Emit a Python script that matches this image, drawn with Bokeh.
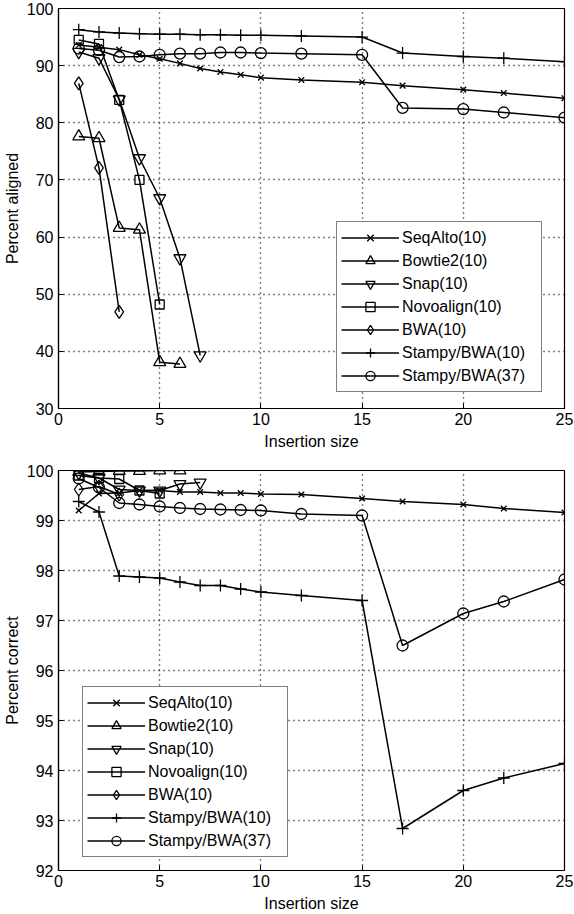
from bokeh.plotting import figure
from bokeh.layouts import column
from bokeh.models import FixedTicker, Legend
from bokeh.embed import file_html
from bokeh.resources import INLINE

FONT = "Liberation Sans"

names = ["SeqAlto(10)", "Bowtie2(10)", "Snap(10)", "Novoalign(10)", "BWA(10)",
         "Stampy/BWA(10)", "Stampy/BWA(37)"]
markers = ["x", "triangle", "inverted_triangle", "square", "diamond", "cross", "circle"]
msizes = [8, 12, 12, 9, 13, 12, 11]

x_full = [1, 2, 3, 4, 5, 6, 7, 8, 9, 10, 12, 15, 17, 20, 22, 25]
x_bowtie = [1, 2, 3, 4, 5, 6]
x_snap = [1, 2, 3, 4, 5, 6, 7]
x_novo = [1, 2, 3, 4, 5]
x_bwa_al = [1, 2, 3]
x_bwa_co = [1, 2, 3]

# Percent aligned
seqalto_al = [93.6, 93.2, 92.8, 91.9, 91.2, 90.4, 89.5, 88.9, 88.4, 87.9, 87.5, 87.1, 86.5, 85.8, 85.2, 84.3]
bowtie2_al = [77.6, 77.3, 61.6, 61.3, 38.1, 37.8]
snap_al = [92.4, 91.3, 84.1, 73.8, 66.8, 56.3, 39.3]
novo_al = [94.5, 93.8, 84.0, 70.0, 48.2]
bwa_al = [86.9, 72.1, 46.9]
stampy10_al = [96.3, 95.9, 95.7, 95.6, 95.5, 95.5, 95.4, 95.4, 95.3, 95.3, 95.2, 95.0, 92.2, 91.6, 91.3, 90.7]
stampy37_al = [93.0, 92.7, 91.5, 91.6, 91.9, 92.1, 92.1, 92.3, 92.3, 92.2, 92.1, 91.9, 82.6, 82.4, 81.8, 80.9]

# Percent correct
seqalto_co = [99.2, 99.54, 99.55, 99.6, 99.6, 99.57, 99.57, 99.55, 99.55, 99.53, 99.52, 99.44, 99.38, 99.32, 99.24, 99.16]
bowtie2_co = [99.97, 99.98, 99.99, 99.99, 100.0, 100.0]
snap_co = [99.95, 99.85, 99.62, 99.6, 99.6, 99.73, 99.76]
novo_co = [99.9, 99.85, 99.83, 99.6, 99.54]
bwa_co = [99.62, 99.68, 99.52]
stampy10_co = [99.38, 99.17, 97.89, 97.87, 97.85, 97.77, 97.7, 97.7, 97.63, 97.57, 97.5, 97.4, 92.84, 93.6, 93.85, 94.14]
stampy37_co = [99.84, 99.66, 99.35, 99.32, 99.28, 99.25, 99.23, 99.22, 99.21, 99.2, 99.13, 99.1, 96.5, 97.14, 97.38, 97.82]

x_ticks = [0, 5, 10, 15, 20, 25]
y_ticks_al = [30, 40, 50, 60, 70, 80, 90, 100]
y_ticks_co = [92, 93, 94, 95, 96, 97, 98, 99, 100]


def make_fig(height, ylim, yticks, ylabel, series, min_top, min_bottom, legend_loc):
    p = figure(width=574, height=height, x_range=(0, 25), y_range=ylim,
               output_backend="svg", toolbar_location=None,
               min_border_left=58, min_border_right=10,
               min_border_top=min_top, min_border_bottom=min_bottom)
    p.background_fill_color = "white"
    p.border_fill_color = "white"
    p.outline_line_color = "black"
    p.outline_line_width = 1.2
    for ax in (p.xaxis[0], p.yaxis[0]):
        ax.major_tick_in = 5
        ax.major_tick_out = 0
        ax.minor_tick_line_color = None
        ax.axis_line_color = "black"
        ax.axis_line_width = 1.2
        ax.major_tick_line_color = "black"
        ax.major_label_text_font = FONT
        ax.major_label_text_font_size = "16px"
        ax.major_label_text_color = "black"
        ax.axis_label_text_font = FONT
        ax.axis_label_text_font_size = "16px"
        ax.axis_label_text_font_style = "normal"
        ax.axis_label_text_color = "black"
    p.xaxis[0].ticker = FixedTicker(ticks=x_ticks)
    p.yaxis[0].ticker = FixedTicker(ticks=yticks)
    p.xaxis[0].axis_label = "Insertion size"
    p.yaxis[0].axis_label = ylabel
    p.xaxis[0].major_label_standoff = 4
    p.xaxis[0].axis_label_standoff = 5
    p.yaxis[0].major_label_standoff = 5
    p.yaxis[0].axis_label_standoff = 3
    for g in (p.xgrid[0], p.ygrid[0]):
        g.grid_line_color = "black"
        g.grid_line_dash = "1 4"
        g.grid_line_width = 1.4
        g.grid_line_alpha = 1.0

    items = []
    for (xs, ys), name, mk, ms in zip(series, names, markers, msizes):
        r1 = p.line(xs, ys, line_color="black", line_width=1.5)
        r2 = p.scatter(xs, ys, marker=mk, size=ms, line_color="black",
                       fill_color=None, line_width=1.3)
        items.append((name, [r1, r2]))
    leg = Legend(items=items, location=legend_loc)
    leg.label_text_font = FONT
    leg.label_text_font_size = "16px"
    leg.label_text_color = "black"
    leg.border_line_color = "black"
    leg.border_line_width = 1.2
    leg.background_fill_color = "white"
    leg.background_fill_alpha = 1
    leg.glyph_width = 58
    leg.glyph_height = 23
    leg.label_height = 23
    leg.label_width = 135
    leg.label_standoff = 3
    leg.padding = 4
    leg.spacing = 0
    leg.margin = 0
    p.add_layout(leg, "center")
    return p


series_al = [(x_full, seqalto_al), (x_bowtie, bowtie2_al), (x_snap, snap_al),
             (x_novo, novo_al), (x_bwa_al, bwa_al), (x_full, stampy10_al),
             (x_full, stampy37_al)]
series_co = [(x_full, seqalto_co), (x_bowtie, bowtie2_co), (x_snap, snap_co),
             (x_novo, novo_co), (x_bwa_co, bwa_co), (x_full, stampy10_co),
             (x_full, stampy37_co)]

p1 = make_fig(452, (30, 100), y_ticks_al, "Percent aligned", series_al, 8, 43, (278, 16))
p2 = make_fig(462, (92, 100), y_ticks_co, "Percent correct", series_co, 18, 44, (24, 13))

layout = column(p1, p2, spacing=0)
open("out.html", "w").write(file_html(layout, INLINE))
